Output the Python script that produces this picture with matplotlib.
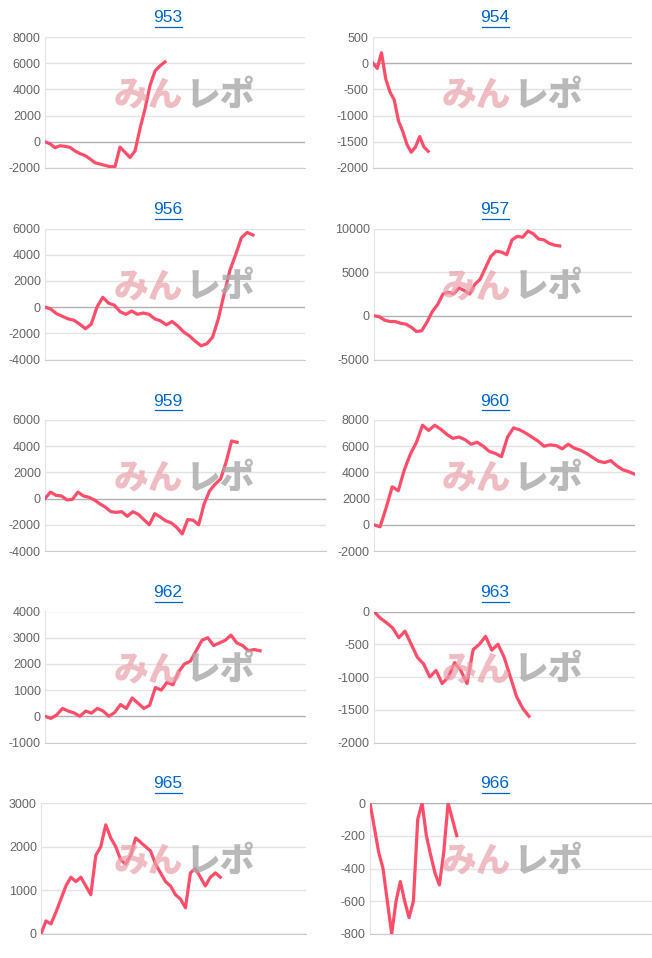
import matplotlib
matplotlib.use('Agg')
import matplotlib.pyplot as plt

plt.rcParams['axes.unicode_minus'] = False
plt.rcParams['font.family'] = ['Liberation Sans', 'DejaVu Sans']

# panel ids and series (cumulative diff per game)
ids = ['953', '954', '956', '957', '959', '960', '962', '963', '965', '966']

s953 = [0, -150, -450, -300, -350, -420, -700, -900, -1050, -1300, -1600, -1700, -1800,
        -1900, -1900, -400, -800, -1200, -700, 1000, 2500, 4300, 5400, 5800, 6100]
s954 = [0, -100, 200, -300, -550, -700, -1100, -1300, -1550, -1700, -1600, -1400, -1600, -1680]
s956 = [0, -150, -500, -700, -900, -1000, -1300, -1650, -1300, 0, 750, 300, 150, -350, -550,
        -300, -550, -450, -550, -900, -1050, -1350, -1100, -1450, -1900, -2200, -2600, -2950,
        -2800, -2300, -900, 1000, 2800, 4000, 5300, 5700, 5500]
s957 = [0, -100, -500, -650, -650, -850, -950, -1300, -1800, -1700, -700, 500, 1300, 2500,
        2700, 2500, 3200, 2900, 2500, 3600, 4200, 5500, 6800, 7400, 7300, 7000, 8700, 9100,
        9000, 9700, 9400, 8800, 8700, 8300, 8100, 8000]
s959 = [0, 500, 250, 200, -100, -50, 500, 200, 100, -100, -400, -650, -1000, -1050, -1000,
        -1350, -1000, -1200, -1600, -2000, -1150, -1400, -1700, -1850, -2200, -2700, -1600,
        -1650, -2000, -400, 600, 1100, 1500, 2800, 4400, 4300]
s960 = [0, -150, 1300, 2900, 2600, 4200, 5400, 6300, 7600, 7200, 7600, 7300, 6900, 6600, 6700,
        6500, 6150, 6300, 6000, 5600, 5450, 5200, 6700, 7400, 7250, 7000, 6700, 6400, 6000,
        6100, 6050, 5800, 6150, 5850, 5700, 5450, 5150, 4850, 4750, 4900, 4500, 4200, 4050, 3850]
s962 = [0, -80, 50, 300, 200, 130, 0, 200, 120, 300, 200, 0, 150, 450, 300, 700, 500, 300, 420,
        1100, 1000, 1300, 1200, 1700, 2000, 2100, 2500, 2900, 3000, 2700, 2800, 2900, 3100,
        2800, 2700, 2500, 2550, 2500]
s963 = [0, -100, -170, -250, -400, -300, -500, -700, -800, -1000, -900, -1100, -1000, -780,
        -900, -1100, -580, -500, -380, -590, -500, -700, -1000, -1300, -1480, -1600]
s965 = [0, 300, 230, 500, 800, 1100, 1300, 1200, 1300, 1100, 900, 1800, 2000, 2500, 2200, 2000,
        1700, 1600, 1800, 2200, 2100, 2000, 1900, 1600, 1400, 1200, 1100, 900, 800, 600, 1400,
        1500, 1300, 1100, 1300, 1400, 1300]
s966 = [0, -150, -300, -400, -600, -800, -600, -480, -600, -700, -600, -100, 0, -200, -320,
        -430, -500, -300, 0, -100, -200]

series = [s953, s954, s956, s957, s959, s960, s962, s963, s965, s966]
x_max = [52, 61, 45, 48.6, 51.2, 43, 44.9, 42.1, 53.2, 65]
y_lims = [(-2000, 8000, 2000), (-2000, 500, 500), (-4000, 6000, 2000), (-5000, 10000, 5000),
          (-4000, 6000, 2000), (-2000, 8000, 2000), (-1000, 4000, 1000), (-2000, 0, 500),
          (0, 3000, 1000), (-800, 0, 200)]
# axes pixel extents (left, right)
x_px = [(45, 305), (373, 632), (45, 305), (374, 632), (45, 326), (374, 635),
        (45, 306), (374, 635), (41, 306), (370, 652)]

W, H = 652, 958
LINE = '#ff4d6a'
GRID = '#e3e3e3'

fig = plt.figure(figsize=(W / 100, H / 100), dpi=100)

for i, (name, ys) in enumerate(zip(ids, series)):
    row, col = divmod(i, 2)
    top = 37 + 191.5 * row
    h = 131
    l, r = x_px[i]
    ax = fig.add_axes([l / W, 1 - (top + h) / H, (r - l) / W, h / H])
    lo, hi, step = y_lims[i]
    ticks = list(range(lo, hi + 1, step))
    ax.set_ylim(lo, hi)
    ax.set_xlim(0, x_max[i])
    ax.set_yticks(ticks)
    ax.set_xticks([])
    for t in ticks:
        ax.axhline(t, color='#b0b0b0' if t == 0 else GRID, lw=1, zorder=0)
    for sp in ['top', 'right']:
        ax.spines[sp].set_visible(False)
    ax.spines['left'].set_color(GRID)
    ax.spines['bottom'].set_color('#cccccc')
    ax.tick_params(axis='y', length=0, labelsize=9, labelcolor='#666666', pad=3)

    # watermark
    cx = (45 + 305) / 2 / W + 0.015 if col == 0 else (373 + 632) / 2 / W + 0.015
    cy = 1 - (top + 58) / H
    fig.text(cx - 0.002, cy, 'みん', color='#e8a0a8', alpha=0.7, fontsize=25,
             fontweight='heavy', family='Noto Sans CJK JP', ha='right', va='center')
    fig.text(cx + 0.002, cy, 'レポ', color='#a8a8a8', alpha=0.8, fontsize=25,
             fontweight='heavy', family='Noto Sans CJK JP', ha='left', va='center')

    ax.plot(range(len(ys)), ys, color=LINE, lw=2.3, zorder=3)

    tx = 168 if col == 0 else 495
    fig.text(tx / W, 1 - (18 + 191.5 * row) / H, name, color='#0066cc', fontsize=12.5,
             ha='center', va='center')
    # underline
    fig.add_artist(plt.Line2D([(tx - 13.5) / W, (tx + 13.5) / W],
                              [1 - (27 + 191.5 * row) / H] * 2, color='#0066cc', lw=0.9))

fig.savefig('out.png', dpi=100)
